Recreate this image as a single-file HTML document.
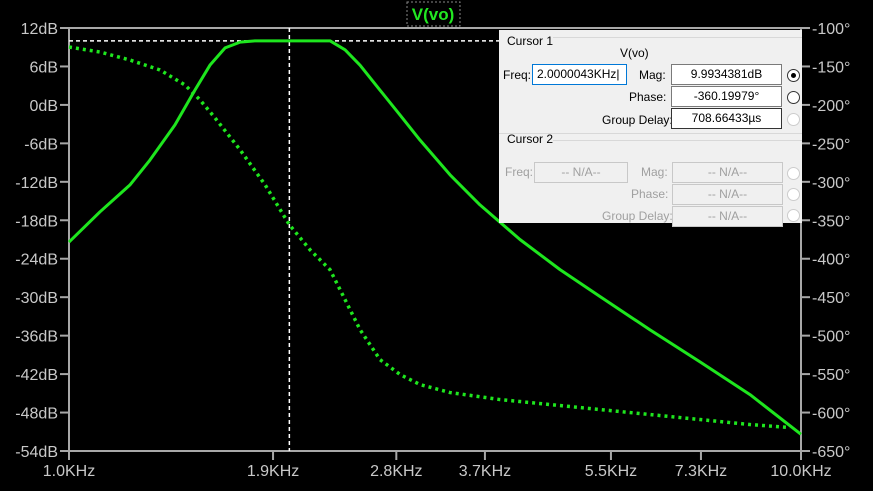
<!DOCTYPE html>
<html><head><meta charset="utf-8"><style>
body{margin:0;background:#000;width:873px;height:491px;overflow:hidden;font-family:"Liberation Sans",Arial,sans-serif}
svg{position:absolute;left:0;top:0}
#panel{position:absolute;left:499px;top:30px;width:303px;height:193px;background:#f0f0f0;font-size:12px;color:#000}
#panel div,#panel span{position:absolute}
.box{background:#fff;border:1px solid #7a7a7a;text-align:center;line-height:19px;height:19px}
.dis{color:#a0a0a0}
.dis.box{background:#f0f0f0;border-color:#c8c8c8}
.rad{width:11px;height:11px;border:1px solid #333;border-radius:50%;background:#fff}
.rad.d{border-color:#ccc}
.sep{height:1px;background:#d8d8d8}
</style></head><body>
<svg width="873" height="491">
 <g id="axes"></g>
 <g id="plot"></g>
</svg>
<div id="panel">
 <div class="sep" style="left:54px;top:7px;width:249px"></div>
 <div style="left:8px;top:4px">Cursor 1</div>
 <div style="left:121px;top:16px">V(vo)</div>
 <div style="left:4px;top:38px">Freq:</div>
 <div class="box" style="left:33px;top:34px;border-color:#0078d7;text-align:left;padding-left:4px;width:89px">2.0000043KHz|</div>
 <div style="left:140px;top:38px">Mag:</div>
 <div class="box" style="left:172px;top:34px;width:109px">9.9934381dB</div>
 <div class="rad" style="left:288px;top:39px"><span style="left:3px;top:3px;width:5px;height:5px;border-radius:50%;background:#000"></span></div>
 <div style="left:130px;top:60px">Phase:</div>
 <div class="box" style="left:172px;top:56px;width:109px">-360.19979°</div>
 <div class="rad" style="left:288px;top:61px"></div>
 <div style="left:103px;top:83px">Group Delay:</div>
 <div class="box" style="left:172px;top:78px;width:109px;border-color:#333">708.66433µs</div>
 <div class="rad d" style="left:288px;top:83px"></div>
 <div class="sep" style="left:0;top:103px;width:303px"></div>
 <div class="sep" style="left:54px;top:110px;width:249px"></div>
 <div style="left:8px;top:102px">Cursor 2</div>
 <div class="dis" style="left:6px;top:135px">Freq:</div>
 <div class="box dis" style="left:35px;top:132px;width:92px">-- N/A--</div>
 <div class="dis" style="left:142px;top:135px">Mag:</div>
 <div class="box dis" style="left:173px;top:132px;width:109px">-- N/A--</div>
 <div class="rad d" style="left:288px;top:137px"></div>
 <div class="dis" style="left:132px;top:157px">Phase:</div>
 <div class="box dis" style="left:173px;top:154px;width:109px">-- N/A--</div>
 <div class="rad d" style="left:288px;top:158px"></div>
 <div class="dis" style="left:103px;top:179px">Group Delay:</div>
 <div class="box dis" style="left:173px;top:176px;width:109px">-- N/A--</div>
 <div class="rad d" style="left:288px;top:179px"></div>
</div>
<script>
const magFreq=[1.0,1.102,1.211,1.290,1.396,1.486,1.558,1.634,1.713,1.796,2.0,2.273,2.383,2.498,2.66,2.834,3.017,3.315,3.643,4.131,4.686,5.313,6.22,7.278,8.518,10.0];
const magDb=[-21.4,-16.7,-12.5,-8.6,-3.1,2.3,6.2,8.9,9.8,10.0,10.0,10.0,8.6,6.2,2.3,-1.6,-5.5,-10.9,-15.6,-21.0,-25.7,-29.9,-35.1,-40.1,-45.2,-51.4];
const phFreq=[1.0,1.102,1.211,1.331,1.44,1.51,1.583,1.713,1.853,2.0,2.134,2.273,2.383,2.498,2.66,2.834,3.017,3.315,3.879,4.541,5.313,6.22,7.278,8.518,9.66];
const phDeg=[-124.7,-131.2,-141.6,-154.5,-174,-193.5,-216.9,-258.4,-303.9,-355.8,-388.3,-414.3,-453.2,-492.2,-531.2,-550.6,-563.6,-574,-583.1,-589.6,-596.1,-602.6,-609.1,-615.6,-619.5];
const dbTicks=[12,6,0,-6,-12,-18,-24,-30,-36,-42,-48,-54];
const degTicks=[-100,-150,-200,-250,-300,-350,-400,-450,-500,-550,-600,-650];
const xTicks=[1.0,1.9,2.8,3.7,5.5,7.3,10.0];
const cursorFreq=2.0, cursorDb=10.0;

const L=69,R=801,T=28,B=451;
const X=f=>L+Math.log10(f/1.0)*(R-L);
const Yd=d=>T+(12-d)/66*(B-T);
const Yp=p=>T+(-100-p)/550*(B-T);
const NS='http://www.w3.org/2000/svg';
function mk(tag,attrs,parent,txt){const e=document.createElementNS(NS,tag);for(const k in attrs)e.setAttribute(k,attrs[k]);if(txt!==undefined)e.textContent=txt;parent.appendChild(e);return e;}
const ax=document.getElementById('axes'),pl=document.getElementById('plot');
const frame=mk('rect',{x:L,y:T,width:R-L,height:B-T,fill:'none',stroke:'#a8a8a8','stroke-width':2},ax);


const tc='#c8c8c8';
dbTicks.forEach(d=>{const y=Yd(d);
 mk('line',{x1:L-9,x2:L,y1:y,y2:y,stroke:'#a8a8a8','stroke-width':2},ax);
 const t=mk('text',{x:L-11,y:y+6,'text-anchor':'end',fill:tc,'font-size':16},ax,d+'dB');
 
 });
degTicks.forEach(p=>{const y=Yp(p);
 mk('line',{x1:R,x2:R+9,y1:y,y2:y,stroke:'#a8a8a8','stroke-width':2},ax);
 const t=mk('text',{x:R+11,y:y+6,fill:tc,'font-size':16},ax,p+'°');
 
 });
xTicks.forEach(f=>{const x=X(f);
 mk('line',{x1:x,x2:x,y1:B,y2:B+9,stroke:'#a8a8a8','stroke-width':2},ax);
 const t=mk('text',{x:x,y:B+25,'text-anchor':'middle',fill:tc,'font-size':16},ax,f.toFixed(1)+'KHz');
 
 });
const tb=mk('rect',{x:407,y:2,width:53,height:24,fill:'none',stroke:'#888','stroke-dasharray':'2 2'},ax);


const tt=mk('text',{x:433,y:20,'text-anchor':'middle',fill:'#22e822','font-size':17,'font-weight':'bold'},ax,'V(vo)');


const cx=X(cursorFreq),cy=Yd(cursorDb);
const ch=mk('line',{x1:L,x2:499,y1:cy,y2:cy,stroke:'#fff','stroke-width':1.5,'stroke-dasharray':'4 3'},pl);


const cv=mk('line',{x1:cx,x2:cx,y1:T,y2:B,stroke:'#fff','stroke-width':1.5,'stroke-dasharray':'4 3'},pl);


const mp=mk('polyline',{points:magFreq.map((f,i)=>X(f)+','+Yd(magDb[i])).join(' '),fill:'none',stroke:'#1ee61e','stroke-width':3,'stroke-linejoin':'round'},pl);


const pp=mk('polyline',{points:phFreq.map((f,i)=>X(f)+','+Yp(phDeg[i])).join(' '),fill:'none',stroke:'#1ee61e','stroke-width':3.5,'stroke-dasharray':'3 4'},pl);


</script>
</body></html>
